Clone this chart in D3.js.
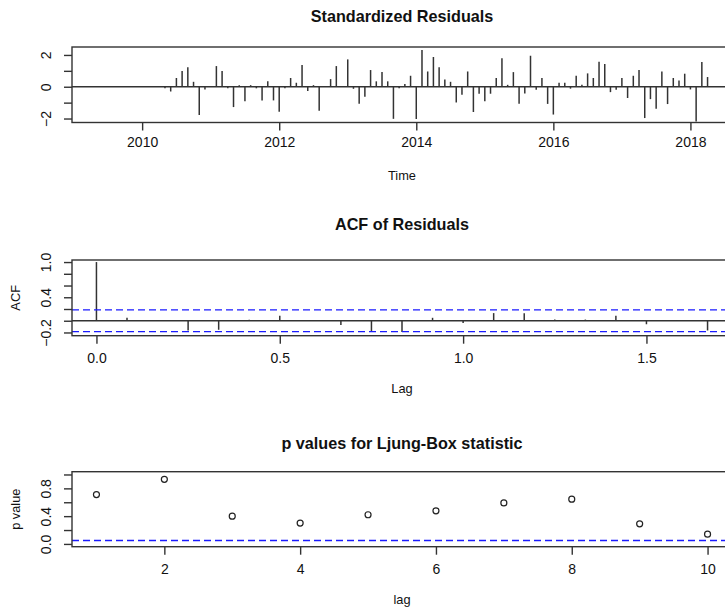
<!DOCTYPE html>
<html><head><meta charset="utf-8">
<script src="https://cdn.jsdelivr.net/npm/d3@7"></script>
<style>
body{margin:0;background:#fff}
svg{display:block}
text{font-family:"Liberation Sans",Arial,Helvetica,sans-serif;fill:#111}
</style>
</head><body>
<svg id="c" width="725" height="608"></svg>
<script>
// ---------- data ----------
const residStartYear = 2009;
const residStartMonth = 5;           // May 2009, monthly series
const residuals = [
  0,0,0,0,0,0,0,0,0,0,0,0,
  -0.10,-0.30,0.55,0.99,1.22,0.31,-1.78,-0.17,
  0.00,1.30,0.99,-0.10,-1.28,0.10,-0.92,0.10,-0.10,-0.86,0.34,-0.86,
  -1.57,-0.10,0.55,0.25,1.36,-0.27,0.10,-1.51,0.00,0.48,1.30,0.00,
  1.72,-0.13,-1.07,-0.63,1.05,0.34,0.92,0.34,-2.02,-0.10,0.17,0.69,
  -2.03,2.31,0.96,1.87,1.22,0.46,0.31,-0.99,-0.50,0.96,-1.59,-0.44,
  -0.92,-0.44,0.55,1.80,0.12,0.92,-1.07,-0.42,1.95,-0.19,0.55,-1.08,
  -1.75,0.25,0.25,-0.12,0.69,0.12,0.84,0.55,1.57,1.43,-0.34,-0.19,
  0.55,-0.71,0.69,1.05,-1.97,-0.78,-1.38,0.96,-1.09,0.55,0.40,0.82,
  -0.17,-2.18,1.55,0.61
];
const timeTicks = [2010, 2012, 2014, 2016, 2018];
const residTicksY = [-2, -1, 0, 1, 2];
const residLabelsY = [-2, 0, 2];

const acfLagIndex = [0,1,2,3,4,5,6,7,8,9,10,11,12,13,14,15,16,17,18,19,20];
const acfValues = [1.0,0.05,0.005,-0.166,-0.154,0.017,0.086,0.004,-0.074,-0.19,-0.19,
                   0.05,-0.04,0.13,0.126,0.02,0.02,0.086,-0.06,0.004,-0.166];
const acfFrequency = 12;
const acfCI = 0.185;
const acfTicksX = [0, 0.5, 1.0, 1.5];
const acfTicksY = [-0.2, 0, 0.2, 0.4, 0.6, 0.8, 1.0];
const acfLabelsY = [-0.2, 0.4, 1.0];

const lbLags = [1,2,3,4,5,6,7,8,9,10];
const lbPValues = [0.71,0.93,0.40,0.30,0.42,0.476,0.59,0.645,0.29,0.14];
const lbRef = 0.05;
const lbTicksX = [2,4,6,8,10];
const lbTicksY = [0, 0.2, 0.4, 0.6, 0.8, 1.0];
const lbLabelsY = [0, 0.4, 0.8];

// ---------- layout ----------
const svg = d3.select("#c");
const L = 72, R = 732;
const ink = "#333";
const TICK = 8;

function box(g, top, bottom) {
  g.append("rect").attr("x", L).attr("y", top).attr("width", R - L).attr("height", bottom - top)
    .attr("fill", "none").attr("stroke", ink).attr("stroke-width", 1.4);
}
function title(txt, baseline) {
  svg.append("text").attr("x", (L + R) / 2).attr("y", baseline).attr("text-anchor", "middle")
    .attr("font-size", 16.2).attr("font-weight", "bold").text(txt);
}
function xAxis(scale, ticks, fmt, bottom, label, padding) {
  const ax = d3.axisBottom(scale).tickValues(ticks).tickFormat(fmt).tickSize(TICK).tickSizeOuter(0).tickPadding(padding);
  const g = svg.append("g").attr("transform", `translate(0,${bottom})`).call(ax);
  g.select(".domain").remove();
  g.selectAll("line").attr("stroke", ink).attr("stroke-width", 1.4);
  g.selectAll("text").attr("font-size", 14).attr("fill", "#222")
    .attr("font-family", '"Liberation Sans",Arial,sans-serif');
  svg.append("text").attr("x", (L + R) / 2).attr("y", bottom + 57).attr("text-anchor", "middle")
    .attr("font-size", 12.8).text(label);
}
function yAxis(scale, ticks, labels, fmt, ylabel, top, bottom) {
  const ax = d3.axisLeft(scale).tickValues(ticks).tickSize(TICK).tickSizeOuter(0)
    .tickFormat(d => labels.some(v => Math.abs(v - d) < 1e-9) ? fmt(d) : "");
  const g = svg.append("g").attr("transform", `translate(${L},0)`).call(ax);
  g.select(".domain").remove();
  g.selectAll("line").attr("stroke", ink).attr("stroke-width", 1.4);
  g.selectAll("text").attr("x", null).attr("dy", null).attr("text-anchor", "middle")
    .attr("transform", "translate(-21,0) rotate(-90)")
    .attr("font-size", 14).attr("fill", "#222")
    .attr("font-family", '"Liberation Sans",Arial,sans-serif');
  if (ylabel) {
    const cy = (top + bottom) / 2;
    svg.append("text").attr("transform", `translate(20,${cy}) rotate(-90)`)
      .attr("text-anchor", "middle").attr("font-size", 12.8).text(ylabel);
  }
}

// ---------- panel 1: standardized residuals ----------
{
  const top = 47, bottom = 122.5;
  const t0 = residStartYear + (residStartMonth - 1) / 12;
  const times = residuals.map((_, i) => t0 + i / 12);
  const ext = d3.extent(times), pad = (ext[1] - ext[0]) * 0.04;
  const x = d3.scaleLinear().domain([ext[0] - pad, ext[1] + pad]).range([L, R]);
  const y = d3.scaleLinear().domain([-2.25, 2.5]).range([bottom, top]);
  const g = svg.append("g");
  g.append("line").attr("x1", L).attr("x2", R).attr("y1", y(0)).attr("y2", y(0))
    .attr("stroke", ink).attr("stroke-width", 1.4);
  g.selectAll(".bar").data(residuals).join("line")
    .attr("x1", (d, i) => x(times[i])).attr("x2", (d, i) => x(times[i]))
    .attr("y1", y(0)).attr("y2", d => y(d))
    .attr("stroke", ink).attr("stroke-width", 1.5);
  box(g, top, bottom);
  title("Standardized Residuals", top - 25);
  xAxis(x, timeTicks, d3.format("d"), bottom, "Time", 7);
  yAxis(y, residTicksY, residLabelsY, d3.format("d"), null, top, bottom);
}

// ---------- panel 2: ACF ----------
{
  const top = 260, bottom = 335.7;
  const lags = acfLagIndex.map(k => k / acfFrequency);
  const ext = d3.extent(lags), pad = (ext[1] - ext[0]) * 0.04;
  const x = d3.scaleLinear().domain([ext[0] - pad, ext[1] + pad]).range([L, R]);
  const y = d3.scaleLinear().domain([-0.255, 1.035]).range([bottom, top]);
  const g = svg.append("g");
  g.append("line").attr("x1", L).attr("x2", R).attr("y1", y(0)).attr("y2", y(0))
    .attr("stroke", ink).attr("stroke-width", 1.4);
  g.selectAll(".spk").data(acfValues).join("line")
    .attr("x1", (d, i) => x(lags[i])).attr("x2", (d, i) => x(lags[i]))
    .attr("y1", y(0)).attr("y2", d => y(d))
    .attr("stroke", ink).attr("stroke-width", 1.5);
  [acfCI, -acfCI].forEach(c => {
    g.append("line").attr("x1", L).attr("x2", R).attr("y1", y(c)).attr("y2", y(c))
      .attr("stroke", "#1a1aff").attr("stroke-width", 1.4).attr("stroke-dasharray", "7,4");
  });
  box(g, top, bottom);
  title("ACF of Residuals", top - 30);
  xAxis(x, acfTicksX, d3.format(".1f"), bottom, "Lag", 9);
  yAxis(y, acfTicksY, acfLabelsY, d3.format(".1f"), "ACF", top, bottom);
}

// ---------- panel 3: Ljung-Box p-values ----------
{
  const top = 471.7, bottom = 546.7;
  const ext = d3.extent(lbLags), pad = (ext[1] - ext[0]) * 0.04;
  const x = d3.scaleLinear().domain([ext[0] - pad, ext[1] + pad]).range([L, R]);
  const y = d3.scaleLinear().domain([-0.04, 1.04]).range([bottom, top]);
  const g = svg.append("g");
  g.append("line").attr("x1", L).attr("x2", R).attr("y1", y(lbRef)).attr("y2", y(lbRef))
    .attr("stroke", "#1a1aff").attr("stroke-width", 1.4).attr("stroke-dasharray", "7,4");
  g.selectAll(".pt").data(lbPValues).join("circle")
    .attr("cx", (d, i) => x(lbLags[i])).attr("cy", d => y(d)).attr("r", 3)
    .attr("fill", "none").attr("stroke", "#222").attr("stroke-width", 1.2);
  box(g, top, bottom);
  title("p values for Ljung-Box statistic", top - 23);
  xAxis(x, lbTicksX, d3.format("d"), bottom, "lag", 9);
  yAxis(y, lbTicksY, lbLabelsY, d3.format(".1f"), "p value", top, bottom);
}
</script>
</body></html>
